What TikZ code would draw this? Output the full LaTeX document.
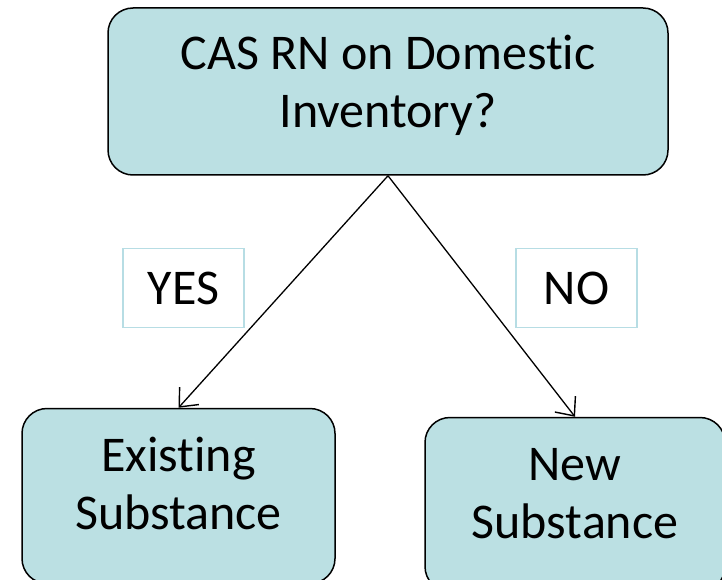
\documentclass[tikz,border=0pt]{standalone}
\usepackage{fontspec}
\setmainfont{Carlito}[Ligatures=NoCommon]
\usetikzlibrary{arrows.meta,positioning}
\definecolor{boxfill}{RGB}{187,224,227}
\definecolor{labelline}{RGB}{183,221,228}
\tikzstyle{question} = [rectangle, rounded corners=25pt,
                      draw=black, line width=1.5pt,
                      fill=boxfill,
                      align=center,
                      inner ysep=0pt,
                      font=\fontsize{50pt}{58pt}\selectfont]
\tikzstyle{answer} = [rectangle,
                      draw=labelline, line width=1.5pt,
                      fill=white,
                      minimum width=121pt, minimum height=79pt,
                      font=\fontsize{50pt}{58pt}\selectfont]
\tikzstyle{branch} = [line width=1.3pt,
                      -{Straight Barb[length=15pt,width=26pt,line width=1.4pt]}]

\begin{document}
\begin{tikzpicture}[node distance=0pt]

  \useasboundingbox (0pt,0pt) rectangle (722pt,-580pt);

  \node (inventory) [question, minimum width=560pt,
    text height=120pt, text depth=47pt] at (388pt,-91.5pt) {
    CAS RN on Domestic\\
    Inventory?
  };

  \node (existing) [question, minimum width=313pt,
    text height=121pt, text depth=54pt,
    below=232pt of inventory, xshift=-209.5pt] {
    Existing\\
    Substance
  };

  \node (new) [question, minimum width=300pt,
    text height=121pt, text depth=53pt,
    below=241pt of inventory, xshift=187pt] {
    New\\
    Substance
  };

  \node (yes) [answer, below=72pt of inventory, xshift=-204.5pt] {YES};
  \node (no) [answer, below=72pt of inventory, xshift=188.5pt] {NO};

  \draw[branch] (inventory.south) to (existing.north);
  \draw[branch] (inventory.south) to (new.north);

\end{tikzpicture}
\end{document}
